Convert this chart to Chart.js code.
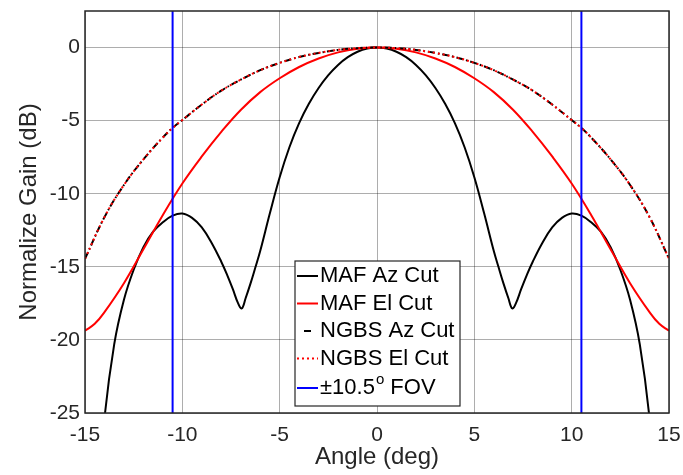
<!DOCTYPE html>
<html>
<head>
<meta charset="utf-8">
<script src="https://cdn.jsdelivr.net/npm/chart.js@4.4.0/dist/chart.umd.min.js"></script>
<style>
  body { margin: 0; background: #fff; }
  canvas { display: block; }
</style>
</head>
<body>
<canvas id="gainChart" width="683" height="475"></canvas>
<script>
// values (positive half; the cuts are symmetric about 0 deg)
const mafAzAngles = [0, 0.5, 1, 1.5, 2, 2.5, 3, 3.5, 4, 4.5, 5, 5.5, 6, 6.25, 6.5, 6.75, 6.95, 7.15, 7.4, 7.7, 8, 8.5, 9, 9.5, 10, 10.5, 11, 11.5, 12, 12.5, 13, 13.5, 14, 14.2];
const mafAzGain = [0, -0.07, -0.29, -0.66, -1.19, -1.89, -2.77, -3.85, -5.17, -6.82, -8.87, -11.32, -13.92, -15.05, -16.15, -17.15, -17.85, -17.45, -16.55, -15.55, -14.65, -13.35, -12.3, -11.65, -11.35, -11.5, -11.95, -12.6, -13.65, -15.2, -17.25, -20.3, -25.4, -30];

const mafElAngles = [0, 1, 2, 3, 4, 5, 6, 7, 8, 9, 10, 11, 12, 13, 14, 14.5, 15];
const mafElGain = [0, -0.08, -0.33, -0.75, -1.33, -2.1, -3.05, -4.27, -5.77, -7.45, -9.3, -11.45, -13.8, -16.12, -18.1, -18.9, -19.37];

const ngbsAngles = [0, 1, 2, 3, 4, 5, 6, 7, 8, 9, 10, 10.5, 11, 12, 13, 14, 15];
const ngbsAzGain = [0, -0.04, -0.16, -0.37, -0.65, -1.05, -1.55, -2.2, -2.95, -3.9, -4.96, -5.5, -6.15, -7.65, -9.4, -11.6, -14.45];
const ngbsElGain = [0, -0.04, -0.16, -0.37, -0.65, -1.05, -1.55, -2.2, -2.95, -3.9, -4.96, -5.5, -6.15, -7.65, -9.4, -11.6, -14.45];

const fovEdge = 10.5;
const xTicks = [-15, -10, -5, 0, 5, 10, 15];
const yTicks = [-25, -20, -15, -10, -5, 0];

const legendLabels = ['MAF Az Cut', 'MAF El Cut', 'NGBS Az Cut', 'NGBS El Cut', '\u00b110.5|o| FOV'];

function mirror(angles, gains) {
    const pts = [];
    for (let i = angles.length - 1; i > 0; i--) pts.push({ x: -angles[i], y: gains[i] });
    for (let i = 0; i < angles.length; i++) pts.push({ x: angles[i], y: gains[i] });
    return pts;
}

const FONT = "'Liberation Sans', Arial, Helvetica, sans-serif";
const TXT = '#262626';

const styles = [
    { color: '#000000', dash: [] },
    { color: '#ff0000', dash: [] },
    { color: '#000000', dash: [7, 3, 1.5, 3] },
    { color: '#ff0000', dash: [2, 3] },
    { color: '#0000ff', dash: [] }
];

const boxAndLegend = {
    id: 'boxAndLegend',
    afterDatasetsDraw(chart) {
        const { ctx, chartArea: a } = chart;
        ctx.save();
        ctx.strokeStyle = '#262626';
        ctx.lineWidth = 1.5;
        ctx.strokeRect(a.left, a.top, a.right - a.left, a.bottom - a.top);

        // legend box
        const lx = 295, ly = 261, lw = 165, lh = 145;
        ctx.fillStyle = '#ffffff';
        ctx.fillRect(lx, ly, lw, lh);
        ctx.strokeStyle = '#262626';
        ctx.lineWidth = 1.2;
        ctx.strokeRect(lx, ly, lw, lh);

        const rows = [276, 303.5, 331, 358.5, 388];
        ctx.textBaseline = 'middle';
        legendLabels.forEach((label, i) => {
            const y = rows[i];
            const st = styles[i];
            ctx.strokeStyle = st.color;
            ctx.lineWidth = 2;
            ctx.setLineDash(st.dash);
            ctx.beginPath();
            if (i === 2) { ctx.moveTo(304, y); ctx.lineTo(311, y); }
            else { ctx.moveTo(297, y); ctx.lineTo(318, y); }
            ctx.stroke();
            ctx.setLineDash([]);
            ctx.fillStyle = '#000000';
            const parts = label.split('|');
            let x = 320;
            parts.forEach((p, k) => {
                if (k === 1) {
                    ctx.font = '15px ' + FONT;
                    ctx.fillText(p, x + 1, y - 8);
                    x += ctx.measureText(p).width + 1;
                } else {
                    ctx.font = '22px ' + FONT;
                    ctx.fillText(p, x, y);
                    x += ctx.measureText(p).width;
                }
            });
        });
        ctx.restore();
    }
};

const datasets = [
    { label: legendLabels[0], data: mirror(mafAzAngles, mafAzGain), order: 4 },
    { label: legendLabels[1], data: mirror(mafElAngles, mafElGain), order: 3 },
    { label: legendLabels[2], data: mirror(ngbsAngles, ngbsAzGain), order: 2 },
    { label: legendLabels[3], data: mirror(ngbsAngles, ngbsElGain), order: 1 },
    { label: 'fovLeft', data: [{ x: -fovEdge, y: -25 }, { x: -fovEdge, y: 2.5 }], order: 0 },
    { label: 'fovRight', data: [{ x: fovEdge, y: -25 }, { x: fovEdge, y: 2.5 }], order: 0 }
].map((d, i) => {
    const st = styles[Math.min(i, 4)];
    return Object.assign(d, {
        borderColor: st.color,
        borderDash: st.dash,
        borderWidth: 2,
        pointRadius: 0,
        fill: false,
        tension: 0.4
    });
});

new Chart(document.getElementById('gainChart'), {
    type: 'line',
    data: { datasets },
    options: {
        responsive: false,
        animation: false,
        devicePixelRatio: 1,
        layout: { padding: { left: 0, right: 14, top: 11, bottom: 0 } },
        plugins: { legend: { display: false }, tooltip: { enabled: false } },
        scales: {
            x: {
                type: 'linear',
                min: -15, max: 15,
                afterBuildTicks: s => { s.ticks = xTicks.map(v => ({ value: v })); },
                afterFit: s => { s.height = 62; s.paddingLeft = 0; s.paddingRight = 0; },
                grid: { color: 'rgba(0,0,0,0.32)', lineWidth: 1, drawTicks: false },
                border: { display: false },
                ticks: { color: TXT, font: { family: FONT, size: 21 }, padding: 10, maxRotation: 0 },
                title: { display: true, text: 'Angle (deg)', color: TXT, font: { family: FONT, size: 24 }, padding: { top: 0, bottom: 3 } }
            },
            y: {
                type: 'linear',
                min: -25, max: 2.5,
                afterBuildTicks: s => { s.ticks = yTicks.map(v => ({ value: v })); },
                afterFit: s => { s.width = 85; s.paddingTop = 0; s.paddingBottom = 0; },
                grid: { color: 'rgba(0,0,0,0.32)', lineWidth: 1, drawTicks: false },
                border: { display: false },
                ticks: { color: TXT, font: { family: FONT, size: 21 }, padding: 5 },
                title: { display: true, text: 'Normalize Gain (dB)', color: TXT, font: { family: FONT, size: 24 }, padding: { top: 15, bottom: 0 } }
            }
        }
    },
    plugins: [boxAndLegend]
});
</script>
</body>
</html>
